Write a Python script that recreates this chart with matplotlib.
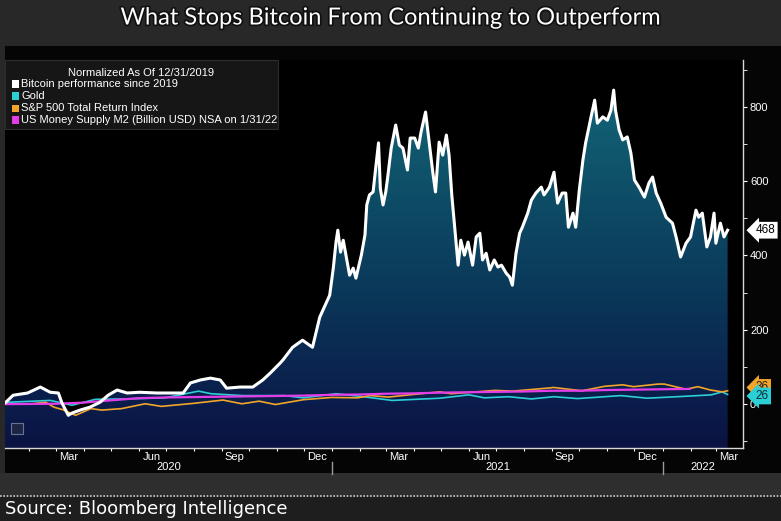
import numpy as np
import pandas as pd
import matplotlib
matplotlib.use("Agg")
import matplotlib.pyplot as plt
import matplotlib.dates as mdates
import matplotlib.patheffects as pe
from matplotlib.colors import LinearSegmentedColormap
from matplotlib.patches import Rectangle
from matplotlib.lines import Line2D
from matplotlib.ticker import MultipleLocator
from matplotlib.transforms import blended_transform_factory

# --- data (percent change since 12/31/2019) ---
btc_dates = ["2019-12-31", "2020-01-05", "2020-01-14", "2020-01-30", "2020-02-13", "2020-02-24",
             "2020-03-04", "2020-03-08", "2020-03-12", "2020-03-15", "2020-03-19", "2020-03-28",
             "2020-04-08", "2020-04-19", "2020-04-28", "2020-05-08", "2020-05-19", "2020-06-02",
             "2020-06-21", "2020-07-09", "2020-07-20", "2020-07-28", "2020-08-08", "2020-08-19",
             "2020-08-30", "2020-09-06", "2020-09-21", "2020-10-05", "2020-10-16", "2020-10-24",
             "2020-11-04", "2020-11-07", "2020-11-18", "2020-11-29", "2020-12-10", "2020-12-18",
             "2020-12-29", "2021-01-02", "2021-01-05", "2021-01-07", "2021-01-10", "2021-01-13",
             "2021-01-16", "2021-01-20", "2021-01-24", "2021-01-27", "2021-02-02", "2021-02-06",
             "2021-02-08", "2021-02-11", "2021-02-15", "2021-02-17", "2021-02-21", "2021-02-23",
             "2021-02-26", "2021-03-01", "2021-03-03", "2021-03-07", "2021-03-12", "2021-03-16",
             "2021-03-20", "2021-03-25", "2021-03-28", "2021-04-02", "2021-04-06", "2021-04-09",
             "2021-04-14", "2021-04-18", "2021-04-22", "2021-04-25", "2021-04-29", "2021-05-03",
             "2021-05-07", "2021-05-10", "2021-05-13", "2021-05-17", "2021-05-20", "2021-05-23",
             "2021-05-27", "2021-05-31", "2021-06-05", "2021-06-09", "2021-06-13", "2021-06-16",
             "2021-06-20", "2021-06-24", "2021-06-29", "2021-07-03", "2021-07-07", "2021-07-12",
             "2021-07-16", "2021-07-19", "2021-07-23", "2021-07-27", "2021-07-30", "2021-08-05",
             "2021-08-09", "2021-08-14", "2021-08-20", "2021-08-23", "2021-08-29", "2021-09-03",
             "2021-09-07", "2021-09-12", "2021-09-16", "2021-09-19", "2021-09-24", "2021-09-27",
             "2021-10-01", "2021-10-05", "2021-10-08", "2021-10-14", "2021-10-18", "2021-10-21",
             "2021-10-27", "2021-11-01", "2021-11-05", "2021-11-08", "2021-11-10", "2021-11-14",
             "2021-11-18", "2021-11-23", "2021-11-27", "2021-12-01", "2021-12-06", "2021-12-12",
             "2021-12-17", "2021-12-21", "2021-12-25", "2021-12-30", "2022-01-05", "2022-01-12",
             "2022-01-16", "2022-01-21", "2022-01-27", "2022-02-01", "2022-02-07", "2022-02-10",
             "2022-02-14", "2022-02-19", "2022-02-23", "2022-02-27", "2022-03-01", "2022-03-06",
             "2022-03-10", "2022-03-14"]
btc_values = [0, 3, 24, 30, 46, 32, 30, 3, -16, -30, -24, -16,
              -8, 5, 24, 38, 30, 32, 30, 30, 30, 57, 65, 70,
              65, 43, 46, 46, 65, 83, 110, 118, 153, 172, 153, 234,
              293, 366, 436, 468, 409, 441, 401, 347, 366, 339, 401, 455,
              536, 563, 571, 616, 703, 581, 536, 571, 608, 689, 751, 697,
              689, 630, 716, 716, 689, 732, 786, 705, 624, 571, 705, 670,
              724, 670, 563, 455, 374, 441, 401, 436, 374, 450, 460, 388,
              406, 361, 388, 369, 374, 353, 342, 320, 406, 460, 476, 514,
              549, 568, 584, 563, 584, 624, 541, 568, 568, 476, 514, 476,
              576, 657, 703, 773, 818, 756, 773, 764, 791, 845, 791, 738,
              711, 719, 676, 603, 584, 557, 595, 611, 568, 541, 503, 487,
              450, 396, 433, 450, 522, 503, 514, 423, 450, 514, 433, 487,
              450, 468]

gold_dates = ["2019-12-31", "2020-01-08", "2020-02-24", "2020-03-19", "2020-04-14", "2020-05-18",
              "2020-06-30", "2020-08-06", "2020-08-20", "2020-09-24", "2020-11-09", "2020-11-30",
              "2021-01-05", "2021-02-01", "2021-03-08", "2021-04-30", "2021-06-01", "2021-06-18",
              "2021-07-15", "2021-08-09", "2021-09-03", "2021-09-29", "2021-11-16", "2021-12-15",
              "2022-01-25", "2022-02-24", "2022-03-08", "2022-03-14"]
gold_values = [0, 5, 10, -3, 13, 14, 17, 35, 28, 23, 23, 17, 28, 21, 10, 16, 25, 17, 20, 14,
               20, 15, 23, 16, 21, 25, 33, 26]

spx_dates = ["2019-12-31", "2020-01-31", "2020-02-19", "2020-02-28", "2020-03-09", "2020-03-23",
             "2020-04-09", "2020-04-21", "2020-05-13", "2020-06-08", "2020-06-26", "2020-07-31",
             "2020-09-02", "2020-09-23", "2020-10-12", "2020-10-30", "2020-11-30", "2020-12-31",
             "2021-01-29", "2021-02-12", "2021-03-04", "2021-03-31", "2021-04-30", "2021-05-12",
             "2021-06-30", "2021-07-19", "2021-08-31", "2021-09-02", "2021-10-04", "2021-10-29",
             "2021-11-18", "2021-11-30", "2021-12-27", "2022-01-03", "2022-01-27", "2022-02-09",
             "2022-02-23", "2022-03-08", "2022-03-14"]
spx_values = [0, 0, 5, -8, -15, -30, -12, -16, -12, 1, -6, 2, 11, 1, 8, -1, 12, 18, 17, 23,
              19, 26, 33, 28, 37, 35, 44, 45, 36, 48, 52, 47, 54, 54, 40, 47, 38, 33, 36]

m2_dates = ["2019-12-31", "2020-01-31", "2020-02-29", "2020-03-31", "2020-04-30", "2020-05-31",
            "2020-06-30", "2020-07-31", "2020-08-31", "2020-09-30", "2020-10-31", "2020-11-30",
            "2020-12-31", "2021-01-31", "2021-02-28", "2021-03-31", "2021-04-30", "2021-05-31",
            "2021-06-30", "2021-07-31", "2021-08-31", "2021-09-30", "2021-10-31", "2021-11-30",
            "2021-12-31", "2022-01-31"]
m2_values = [0, 0.5, 1, 4, 10, 16, 18, 19, 20, 21, 22, 23, 25, 26, 28, 29, 31, 32, 33, 34,
             36, 36, 38, 39, 40, 41]

legend_labels = ["Bitcoin performance since 2019", "Gold", "S&P 500 Total Return Index",
                 "US Money Supply M2 (Billion USD) NSA on 1/31/22"]
colors = ["#ffffff", "#2ccfd6", "#f2a52a", "#e23de6"]

W, H = 781, 521


def fx(x):
    return x / W


def fy(y):
    return 1 - y / H


fig = plt.figure(figsize=(W / 100, H / 100), dpi=100, facecolor="#282828")

# background panels (behind the axes)
fig.patches.append(Rectangle((fx(5), fy(473)), fx(776), 427 / H, transform=fig.transFigure,
                             facecolor="#050505", edgecolor="none", zorder=-2))
fig.patches.append(Rectangle((0, fy(495)), 1, 22 / H, transform=fig.transFigure,
                             facecolor="#2e2e2e", edgecolor="none", zorder=-2))
fig.patches.append(Rectangle((0, 0), 1, 24 / H, transform=fig.transFigure,
                             facecolor="#1e1e1e", edgecolor="none", zorder=-2))
fig.lines.append(Line2D([0, 1], [fy(496), fy(496)], transform=fig.transFigure,
                        color="#cfcfcf", lw=1.2, ls=(0, (1, 1)), zorder=-1))

fig.text(0.5, fy(18), "What Stops Bitcoin From Continuing to Outperform", ha="center", va="center",
         fontsize=17, color="white", family="Lato",
         path_effects=[pe.withStroke(linewidth=2.5, foreground="#111111")])
fig.text(fx(5), fy(509), "Source: Bloomberg Intelligence", ha="left", va="center",
         fontsize=13, color="white", family="DejaVu Sans")

ax = fig.add_axes([fx(5), fy(448), 738 / W, 388 / H])
ax.set_facecolor("black")

btc_x = mdates.date2num(pd.to_datetime(btc_dates))
gold_x = mdates.date2num(pd.to_datetime(gold_dates))
spx_x = mdates.date2num(pd.to_datetime(spx_dates))
m2_x = mdates.date2num(pd.to_datetime(m2_dates))

ymin, ymax = -118, 926
x0 = mdates.date2num(pd.Timestamp("2020-01-05"))
x1 = mdates.date2num(pd.Timestamp("2022-03-31"))

# gradient area under bitcoin
cmap = LinearSegmentedColormap.from_list(
    "btc", [(0, "#0a1342"), (0.11, "#0b1c4b"), (0.38, "#0a3658"), (0.79, "#10596e"), (1, "#146a80")])
grad = np.linspace(0, 1, 256).reshape(-1, 1)
im = ax.imshow(grad, extent=[btc_x[0], btc_x[-1], ymin, ymax], origin="lower", aspect="auto",
               cmap=cmap, zorder=1, interpolation="bilinear")
area = ax.fill_between(btc_x, btc_values, ymin, facecolor="none", lw=0)
im.set_clip_path(area.get_paths()[0], transform=ax.transData)

ax.plot(gold_x, gold_values, color=colors[1], lw=1.2, zorder=3)
ax.plot(spx_x, spx_values, color=colors[2], lw=1.2, zorder=4)
ax.plot(m2_x, m2_values, color=colors[3], lw=1.6, zorder=5)
ax.plot(btc_x, btc_values, color=colors[0], lw=2.2, zorder=6, solid_joinstyle="round")

ax.set_xlim(x0, x1)
ax.set_ylim(ymin, ymax)

for s in ["top", "left"]:
    ax.spines[s].set_visible(False)
for s in ["right", "bottom"]:
    ax.spines[s].set_color("#d8d8d8")
    ax.spines[s].set_linewidth(1)

ax.yaxis.tick_right()
ax.set_yticks([0, 200, 400, 600, 800])
ax.yaxis.set_minor_locator(MultipleLocator(100))
ax.tick_params(axis="y", which="both", colors="white", direction="out", length=3,
               labelsize=8, pad=2)

ax.xaxis.set_major_locator(mdates.MonthLocator())
ax.xaxis.set_major_formatter(plt.NullFormatter())
ax.xaxis.set_minor_locator(mdates.MonthLocator(bymonth=[3, 6, 9, 12], bymonthday=15))
ax.xaxis.set_minor_formatter(mdates.DateFormatter("%b"))
ax.tick_params(axis="x", which="major", colors="white", direction="out", length=2.5)
ax.tick_params(axis="x", which="minor", colors="white", length=0, labelsize=8, pad=3)
for lab in ax.get_xticklabels(minor=True) + ax.get_yticklabels():
    lab.set_family("Liberation Sans")

# year labels and separators
trans = blended_transform_factory(ax.transData, ax.transAxes)
y2021 = mdates.date2num(pd.Timestamp("2021-01-01"))
y2022 = mdates.date2num(pd.Timestamp("2022-01-01"))
for xc, yr in [((x0 + y2021) / 2, "2020"), ((y2021 + y2022) / 2, "2021"), ((y2022 + x1) / 2, "2022")]:
    ax.text(xc, -0.05, yr, transform=trans, ha="center", va="center", fontsize=8,
            color="white", family="Liberation Sans")
for xs in [y2021, y2022]:
    ax.plot([xs, xs], [-0.036, -0.066], transform=trans, color="#9a9a9a", lw=1, clip_on=False)

# small chart-type icon in the lower left corner
ax.add_patch(Rectangle((0.008, 0.035), 0.016, 0.03, transform=ax.transAxes,
                       facecolor="#1d2545", edgecolor="#6d7290", lw=0.8, zorder=7))

# last value tags on the right axis
trans_r = blended_transform_factory(ax.transAxes, ax.transData)
tags = [("36", 45, colors[2], "#202020"), ("26", 22, colors[1], "#0e2a33"),
        ("468", 468, "white", "black")]
for txt, yv, fc, tc in tags:
    ax.annotate(txt, xy=(1, yv), xycoords=trans_r, xytext=(9, 0), textcoords="offset points",
                ha="left", va="center", fontsize=8.5, color=tc, family="Liberation Sans",
                bbox=dict(boxstyle="larrow,pad=0.2", fc=fc, ec="none"), annotation_clip=False)

# legend box
fig.patches.append(Rectangle((fx(5), fy(129)), 273 / W, 69 / H, transform=fig.transFigure,
                             facecolor="#161616", edgecolor="#2c2c2c", lw=0.8, zorder=5))
fig.text(fx(141), fy(73), "Normalized As Of 12/31/2019", ha="center", va="center", fontsize=8,
         color="white", family="Liberation Sans", zorder=6)
for i, (lab, c) in enumerate(zip(legend_labels, colors)):
    yy = 84 + i * 12
    fig.patches.append(Rectangle((fx(12), fy(yy + 3.5)), 7 / W, 7 / H, transform=fig.transFigure,
                                 facecolor=c, edgecolor="none", zorder=6))
    fig.text(fx(21), fy(yy), lab, ha="left", va="center", fontsize=8, color="white",
             family="Liberation Sans", zorder=6)

fig.savefig("out.png", dpi=100, facecolor=fig.get_facecolor())
